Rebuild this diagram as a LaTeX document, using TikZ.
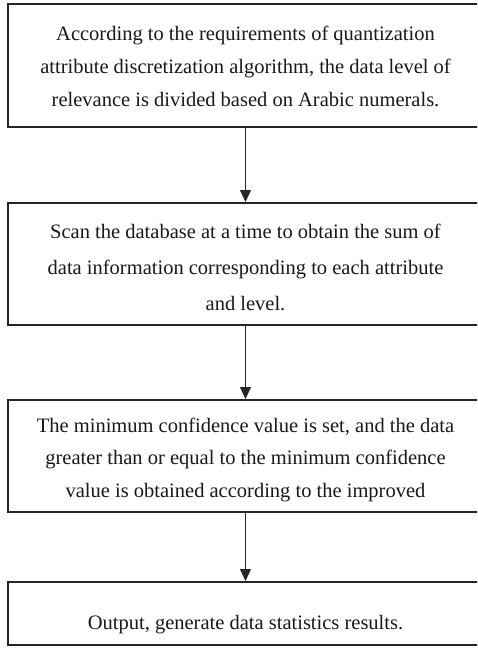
\documentclass[tikz,border=0pt]{standalone}
\usepackage{fontspec}
\setmainfont{Liberation Serif}
\usetikzlibrary{arrows.meta}
\begin{document}
\begin{tikzpicture}[x=1pt,y=-1pt,
  stepbox/.style={draw=black!85, line width=2pt, rectangle, minimum width=475pt, inner sep=0pt},
  steptext/.style={anchor=north, inner sep=0pt, align=center, text=black!90},
  flow/.style={draw=black!85, line width=1pt, -{Triangle[length=12pt,width=11pt]}}]
\useasboundingbox (0,0) rectangle (477,648);
\clip (0,0) rectangle (477,648);
\node[stepbox, minimum height=123pt] (b1) at (245.5,65.5) {};
\node[stepbox, minimum height=122pt] (b2) at (245.5,264) {};
\node[stepbox, minimum height=112pt] (b3) at (245.5,456) {};
\node[stepbox, minimum height=63pt] (b4) at (245.5,613.5) {};
\node[steptext, font=\fontsize{20.5}{33}\selectfont] (t1) at (245.5,25.5) {\rule{0pt}{15pt}According to the requirements of quantization\\attribute discretization algorithm, the data level of\\relevance is divided based on Arabic numerals.};
\node[steptext, font=\fontsize{20.5}{36}\selectfont] (t2) at (245.5,223) {\rule{0pt}{15pt}Scan the database at a time to obtain the sum of\\data information corresponding to each attribute\\and level.};
\node[steptext, font=\fontsize{20.5}{32.5}\selectfont] (t3) at (245.5,417) {\rule{0pt}{15pt}The minimum confidence value is set, and the data\\greater than or equal to the minimum confidence\\value is obtained according to the improved};
\node[steptext, font=\fontsize{20.5}{33}\selectfont] (t4) at (245.5,614) {\rule{0pt}{15pt}Output, generate data statistics results.};
\draw[flow] (b1.south) -- (b2.north);
\draw[flow] (b2.south) -- (b3.north);
\draw[flow] (b3.south) -- (b4.north);
\end{tikzpicture}
\end{document}
